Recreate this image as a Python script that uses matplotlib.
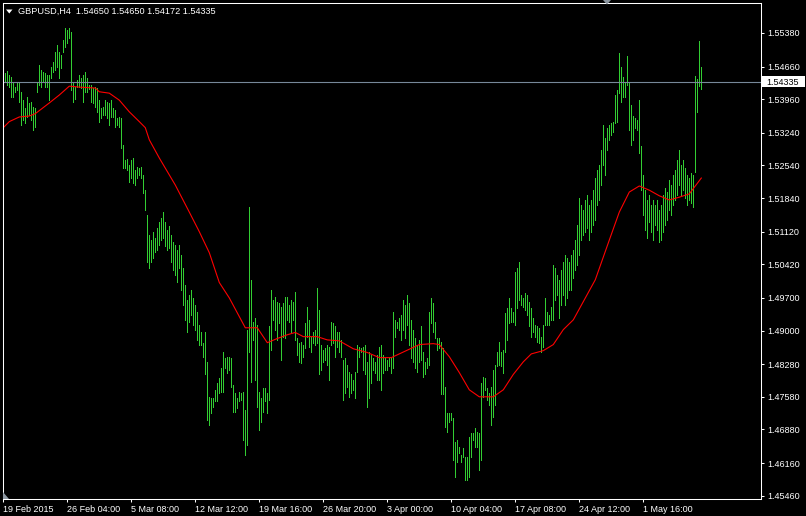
import matplotlib
matplotlib.use("Agg")
import matplotlib.pyplot as plt
from matplotlib.patches import Polygon, Rectangle

# GBPUSD H4 bars, high / low per bar
high = [
    1.5455, 1.5453, 1.5457, 1.5448, 1.5444, 1.5433, 1.5422, 1.5433, 1.5431, 1.5412,
    1.5394, 1.5377, 1.5400, 1.5388, 1.5390, 1.5379, 1.5377, 1.5431, 1.5470, 1.5459,
    1.5455, 1.5453, 1.5448, 1.5448, 1.5465, 1.5476, 1.5498, 1.5512, 1.5498, 1.5491,
    1.5523, 1.5549, 1.5544, 1.5549, 1.5540, 1.5431, 1.5422, 1.5437, 1.5448, 1.5442,
    1.5448, 1.5455, 1.5442, 1.5426, 1.5426, 1.5420, 1.5422, 1.5420, 1.5394, 1.5377,
    1.5379, 1.5394, 1.5390, 1.5388, 1.5394, 1.5377, 1.5373, 1.5356, 1.5358, 1.5356,
    1.5298, 1.5266, 1.5268, 1.5255, 1.5266, 1.5270, 1.5244, 1.5251, 1.5249, 1.5251,
    1.5234, 1.5201, 1.5148, 1.5105, 1.5094, 1.5112, 1.5099, 1.5120, 1.5133, 1.5141,
    1.5154, 1.5133, 1.5116, 1.5124, 1.5105, 1.5090, 1.5084, 1.5073, 1.5084, 1.5062,
    1.5035, 1.4998, 1.4966, 1.4977, 1.4987, 1.4970, 1.4955, 1.4940, 1.4913, 1.4896,
    1.4874, 1.4896, 1.4833, 1.4758, 1.4756, 1.4756, 1.4773, 1.4788, 1.4799, 1.4820,
    1.4853, 1.4842, 1.4844, 1.4844, 1.4842, 1.4784, 1.4767, 1.4756, 1.4769, 1.4767,
    1.4769, 1.4730, 1.4902, 1.5165, 1.5009, 1.4919, 1.4926, 1.4911, 1.4769, 1.4756,
    1.4777, 1.4777, 1.4767, 1.4909, 1.4987, 1.4966, 1.4972, 1.4962, 1.4960, 1.4951,
    1.4960, 1.4972, 1.4972, 1.4955, 1.4966, 1.4962, 1.4983, 1.4885, 1.4874, 1.4876,
    1.4870, 1.4917, 1.4951, 1.4923, 1.4887, 1.4898, 1.4902, 1.4992, 1.4944, 1.4870,
    1.4859, 1.4863, 1.4870, 1.4865, 1.4919, 1.4917, 1.4909, 1.4896, 1.4898, 1.4880,
    1.4837, 1.4842, 1.4827, 1.4812, 1.4806, 1.4795, 1.4812, 1.4870, 1.4865, 1.4863,
    1.4865, 1.4870, 1.4833, 1.4853, 1.4848, 1.4842, 1.4833, 1.4848, 1.4865, 1.4870,
    1.4848, 1.4842, 1.4837, 1.4842, 1.4842, 1.4940, 1.4923, 1.4919, 1.4928, 1.4934,
    1.4966, 1.4955, 1.4977, 1.4960, 1.4923, 1.4902, 1.4885, 1.4870, 1.4880, 1.4909,
    1.4853, 1.4833, 1.4842, 1.4940, 1.4970, 1.4960, 1.4919, 1.4885, 1.4885, 1.4876,
    1.4863, 1.4780, 1.4724, 1.4724, 1.4724, 1.4713, 1.4662, 1.4666, 1.4651, 1.4634,
    1.4649, 1.4630, 1.4630, 1.4672, 1.4681, 1.4681, 1.4692, 1.4683, 1.4681, 1.4788,
    1.4801, 1.4799, 1.4777, 1.4767, 1.4780, 1.4816, 1.4827, 1.4853, 1.4876, 1.4855,
    1.4859, 1.4938, 1.4949, 1.4970, 1.4949, 1.4940, 1.5026, 1.5035, 1.5048, 1.4977,
    1.4970, 1.4981, 1.4977, 1.4962, 1.4949, 1.4928, 1.4913, 1.4909, 1.4906, 1.4887,
    1.4913, 1.4970, 1.4940, 1.4934, 1.4951, 1.5041, 1.5035, 1.5020, 1.5009, 1.5030,
    1.5048, 1.5062, 1.5056, 1.5048, 1.5062, 1.5073, 1.5094, 1.5126, 1.5184, 1.5169,
    1.5159, 1.5180, 1.5190, 1.5169, 1.5180, 1.5201, 1.5227, 1.5244, 1.5255, 1.5287,
    1.5341, 1.5313, 1.5334, 1.5341, 1.5345, 1.5347, 1.5405, 1.5416, 1.5495, 1.5465,
    1.5444, 1.5433, 1.5489, 1.5433, 1.5384, 1.5360, 1.5356, 1.5352, 1.5394, 1.5296,
    1.5234, 1.5201, 1.5180, 1.5190, 1.5169, 1.5180, 1.5169, 1.5180, 1.5159, 1.5169,
    1.5190, 1.5206, 1.5197, 1.5223, 1.5212, 1.5234, 1.5244, 1.5266, 1.5287, 1.5255,
    1.5266, 1.5249, 1.5234, 1.5227, 1.5238, 1.5234, 1.5446, 1.5440, 1.5521, 1.5465,
]
low = [
    1.5431, 1.5433, 1.5426, 1.5422, 1.5400, 1.5400, 1.5412, 1.5416, 1.5390, 1.5341,
    1.5352, 1.5345, 1.5358, 1.5362, 1.5352, 1.5330, 1.5337, 1.5412, 1.5426, 1.5422,
    1.5433, 1.5422, 1.5422, 1.5394, 1.5442, 1.5455, 1.5459, 1.5465, 1.5442, 1.5463,
    1.5498, 1.5508, 1.5517, 1.5527, 1.5416, 1.5390, 1.5397, 1.5422, 1.5422, 1.5420,
    1.5390, 1.5412, 1.5412, 1.5418, 1.5390, 1.5388, 1.5379, 1.5369, 1.5347, 1.5356,
    1.5362, 1.5362, 1.5356, 1.5341, 1.5358, 1.5358, 1.5337, 1.5341, 1.5337, 1.5292,
    1.5249, 1.5249, 1.5244, 1.5219, 1.5227, 1.5216, 1.5212, 1.5227, 1.5234, 1.5227,
    1.5195, 1.5159, 1.5048, 1.5035, 1.5048, 1.5056, 1.5069, 1.5073, 1.5084, 1.5094,
    1.5099, 1.5081, 1.5073, 1.5077, 1.5048, 1.5030, 1.5020, 1.5005, 1.5035, 1.4987,
    1.4955, 1.4923, 1.4898, 1.4919, 1.4934, 1.4913, 1.4902, 1.4880, 1.4870, 1.4870,
    1.4844, 1.4806, 1.4709, 1.4698, 1.4724, 1.4737, 1.4748, 1.4748, 1.4767, 1.4769,
    1.4769, 1.4820, 1.4810, 1.4816, 1.4780, 1.4726, 1.4726, 1.4735, 1.4748, 1.4752,
    1.4666, 1.4634, 1.4655, 1.4853, 1.4790, 1.4880, 1.4795, 1.4737, 1.4687, 1.4703,
    1.4726, 1.4748, 1.4724, 1.4752, 1.4859, 1.4923, 1.4902, 1.4880, 1.4917, 1.4837,
    1.4887, 1.4885, 1.4923, 1.4919, 1.4896, 1.4923, 1.4880, 1.4848, 1.4833, 1.4831,
    1.4844, 1.4863, 1.4887, 1.4865, 1.4855, 1.4874, 1.4870, 1.4874, 1.4806, 1.4816,
    1.4833, 1.4837, 1.4827, 1.4795, 1.4870, 1.4874, 1.4844, 1.4865, 1.4853, 1.4844,
    1.4752, 1.4767, 1.4780, 1.4758, 1.4767, 1.4773, 1.4756, 1.4812, 1.4844, 1.4855,
    1.4816, 1.4806, 1.4737, 1.4756, 1.4788, 1.4816, 1.4810, 1.4795, 1.4795, 1.4773,
    1.4810, 1.4816, 1.4816, 1.4823, 1.4810, 1.4820, 1.4887, 1.4906, 1.4902, 1.4880,
    1.4902, 1.4885, 1.4913, 1.4870, 1.4842, 1.4833, 1.4820, 1.4812, 1.4833, 1.4837,
    1.4801, 1.4806, 1.4820, 1.4827, 1.4917, 1.4898, 1.4885, 1.4859, 1.4863, 1.4763,
    1.4763, 1.4694, 1.4683, 1.4703, 1.4709, 1.4623, 1.4587, 1.4619, 1.4638, 1.4619,
    1.4630, 1.4580, 1.4580, 1.4587, 1.4630, 1.4666, 1.4651, 1.4651, 1.4602, 1.4623,
    1.4758, 1.4773, 1.4752, 1.4741, 1.4698, 1.4715, 1.4741, 1.4823, 1.4827, 1.4823,
    1.4810, 1.4853, 1.4880, 1.4917, 1.4919, 1.4919, 1.4913, 1.4949, 1.4966, 1.4955,
    1.4951, 1.4944, 1.4934, 1.4909, 1.4887, 1.4896, 1.4887, 1.4876, 1.4874, 1.4855,
    1.4865, 1.4913, 1.4913, 1.4913, 1.4923, 1.4923, 1.4966, 1.4977, 1.4928, 1.4955,
    1.4977, 1.4955, 1.4970, 1.4987, 1.4987, 1.5013, 1.5030, 1.5041, 1.5062, 1.5094,
    1.5105, 1.5112, 1.5120, 1.5094, 1.5112, 1.5126, 1.5137, 1.5169, 1.5180, 1.5212,
    1.5255, 1.5234, 1.5287, 1.5309, 1.5320, 1.5326, 1.5345, 1.5347, 1.5410, 1.5390,
    1.5400, 1.5400, 1.5426, 1.5330, 1.5298, 1.5309, 1.5334, 1.5330, 1.5281, 1.5201,
    1.5148, 1.5116, 1.5099, 1.5133, 1.5112, 1.5094, 1.5126, 1.5116, 1.5090, 1.5094,
    1.5112, 1.5126, 1.5137, 1.5159, 1.5148, 1.5169, 1.5180, 1.5190, 1.5212, 1.5190,
    1.5201, 1.5184, 1.5169, 1.5180, 1.5173, 1.5165, 1.5240, 1.5369, 1.5424, 1.5417,
]

# moving average (red line), bar index -> value
ma_idx = [0, 3, 8, 13, 16, 23, 28, 33, 38, 46, 48, 53, 58, 63, 68, 71, 73, 78, 86,
          93, 98, 103, 108, 113, 118, 121, 127, 132, 137, 142, 146, 150, 157, 162,
          168, 175, 182, 188, 194, 198, 208, 215, 218, 223, 228, 233, 238, 245, 250,
          255, 260, 264, 270, 275, 280, 285, 290, 296, 303, 308, 313, 318, 323, 328,
          333, 338, 343, 349]
ma_val = [1.5335, 1.5348, 1.5358, 1.5360, 1.5365, 1.5388, 1.5405, 1.5424, 1.5422,
          1.5420, 1.5412, 1.5409, 1.5394, 1.5369, 1.5348, 1.5335, 1.5309, 1.5270,
          1.5212, 1.5154, 1.5112, 1.5067, 1.5003, 1.4970, 1.4930, 1.4906, 1.4906,
          1.4874, 1.4883, 1.4891, 1.4896, 1.4887, 1.4887, 1.4880, 1.4878, 1.4861,
          1.4853, 1.4842, 1.4842, 1.4850, 1.4870, 1.4872, 1.4870, 1.4844, 1.4810,
          1.4773, 1.4758, 1.4758, 1.4773, 1.4806, 1.4833, 1.4850, 1.4857, 1.4870,
          1.4902, 1.4923, 1.4962, 1.5009, 1.5094, 1.5154, 1.5197, 1.5210, 1.5201,
          1.5189, 1.5180, 1.5186, 1.5193, 1.5227]

last_price = 1.54335
title = "GBPUSD,H4  1.54650 1.54650 1.54172 1.54335"

y_ticks = [1.55380, 1.54660, 1.53960, 1.53240, 1.52540, 1.51840, 1.51120, 1.50420,
           1.49700, 1.49000, 1.48280, 1.47580, 1.46880, 1.46160, 1.45460]
x_tick_idx = [0, 32, 64, 96, 128, 160, 192, 224, 256, 288, 320]
x_tick_labels = ["19 Feb 2015", "26 Feb 04:00", "5 Mar 08:00", "12 Mar 12:00",
                 "19 Mar 16:00", "26 Mar 20:00", "3 Apr 00:00", "10 Apr 04:00",
                 "17 Apr 08:00", "24 Apr 12:00", "1 May 16:00"]

plt.rcParams["font.family"] = ["Liberation Sans", "DejaVu Sans"]

W, H = 806, 516
fig = plt.figure(figsize=(W / 100, H / 100), dpi=100, facecolor="black")
ax = fig.add_axes([2.5 / W, 1 - 499 / H, 759 / W, 496 / H])
ax.set_facecolor("black")

# one-pixel high-low bars, two pixels apart
ax.vlines(range(len(high)), low, high, colors="#32cd32", linewidth=0.55,
          antialiased=False)
ax.plot(ma_idx, ma_val, color="#ff0000", linewidth=0.8)
ax.axhline(last_price, color="#778899", linewidth=0.8)

ax.set_xlim(-0.4, 379.1)
ax.set_ylim(1.45389, 1.56023)

ax.yaxis.tick_right()
ax.set_yticks(y_ticks)
ax.set_yticklabels([f"{v:.5f}" for v in y_ticks])
ax.set_xticks(x_tick_idx)
ax.set_xticklabels(x_tick_labels, ha="left")
ax.tick_params(colors="white", labelcolor="white", length=2.5, width=0.75,
               labelsize=6.5, pad=2)
ax.tick_params(axis="x", pad=1.5)
for s in ax.spines.values():
    s.set_color("white")
    s.set_linewidth(0.75)

# current price label on the price scale
fig.patches.append(Rectangle((762 / W, 1 - 87 / H), 43 / W, 10.5 / H,
                             transform=fig.transFigure, facecolor="white",
                             edgecolor="none"))
fig.text(766 / W, 1 - 82 / H, f"{last_price:.5f}", color="black", fontsize=6.5,
         va="center", ha="left")

# header
fig.text(18 / W, 1 - 11.7 / H, title, color="white", fontsize=6.6, va="center")
fig.patches.append(Polygon([(6 / W, 1 - 9.5 / H), (12.5 / W, 1 - 9.5 / H),
                            (9.25 / W, 1 - 13.5 / H)], closed=True,
                           transform=fig.transFigure, facecolor="white"))

# small grey markers (chart shift / scroll corner)
fig.patches.append(Polygon([(603 / W, 1.0), (611 / W, 1.0), (607 / W, 1 - 4.5 / H)],
                           closed=True, transform=fig.transFigure,
                           facecolor="#8c96a0"))
fig.patches.append(Polygon([(3 / W, 1 - 492 / H), (3 / W, 1 - 499 / H),
                            (9 / W, 1 - 499 / H)], closed=True,
                           transform=fig.transFigure, facecolor="#8c96a0"))

fig.savefig("out.png", dpi=100, facecolor="black")
